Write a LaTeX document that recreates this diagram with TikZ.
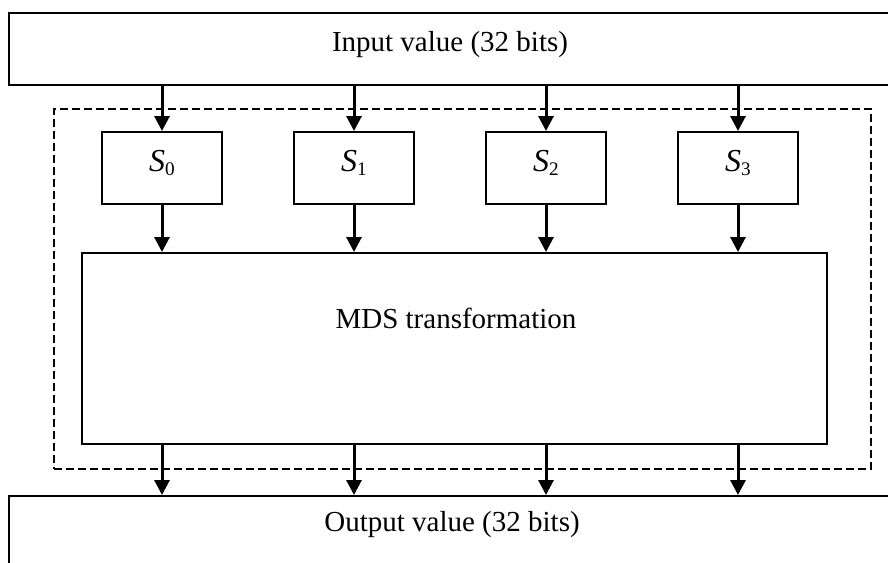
\documentclass[tikz,border=0pt]{standalone}
\usepackage{fontspec}
\setmainfont{Liberation Serif}
\usepackage{tikz}
\usetikzlibrary{arrows.meta}
\usetikzlibrary{positioning}
\tikzset{basic/.style={draw,line width=1pt,inner sep=0pt}}
\tikzset{sbox/.style={basic,minimum width=60pt,minimum height=36pt,text height=6pt,text depth=3pt}}
\tikzset{bigbox/.style={basic,minimum width=442pt,minimum height=36pt,anchor=north west}}
\newcommand{\Sn}[1]{{\fontsize{16}{19}\selectfont\textit{S}}\raisebox{-2pt}{\fontsize{9.6}{11}\selectfont #1}}

\begin{document}
\begin{tikzpicture}[
		x = 0.5pt, y = -0.5pt, % pixel grid, y downwards
		> = {Triangle[length=7.5pt,width=7.5pt]}, % arrow head style
		node distance = 96pt, % distance between s-boxes
		font = \fontsize{14.5}{17}\selectfont
		]
		
		\useasboundingbox (0,0) rectangle (888,562);
		\clip (0,0) rectangle (888,562);
		
		% In and out
		\node[bigbox] (inbox) at (8,12) {};
		\node (intext) at (450,45) {Input value (32 bits)};
		\node[bigbox] (outbox) at (8,495) {};
		\node (outtext) at (452,525) {Output value (32 bits)};
		
		% Round function
		\node[draw, dashed, line width=1pt, dash pattern=on 4pt off 2pt,
		minimum width=408.5pt, minimum height=180pt, anchor=north west] (round) at (53,108) {};
		
		\node[sbox] (s0) at (162,168) {\Sn{0}};
		\node[sbox] (s1) [right of=s0] {\Sn{1}};
		\node[sbox] (s2) [right of=s1] {\Sn{2}};
		\node[sbox] (s3) [right of=s2] {\Sn{3}};
		
		\node[basic, minimum width=372.5pt, minimum height=95.5pt] (mds) at (454.5,348.5) {};
		\node (mdstext) at (456,318) {MDS transformation};
		
		% Arrows
		\foreach \s in {s0,s1,s2,s3} {
			\draw[->, line width=1.5pt] (\s.north |- inbox.south) -- (\s.north);
			\draw[->, line width=1.5pt] (\s.south) -- (\s.south |- mds.north);
			\draw[->, line width=1.5pt] (\s.south |- mds.south) -- (\s.south |- outbox.north);
		}
		\end{tikzpicture}
\end{document}
